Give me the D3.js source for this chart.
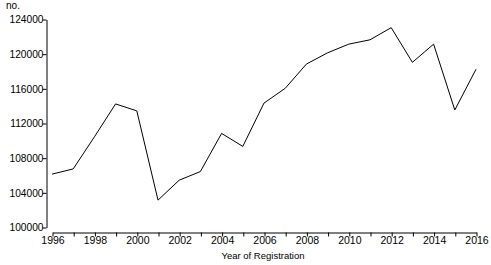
<!DOCTYPE html>
<html>
<head>
<meta charset="utf-8">
<script src="https://cdn.jsdelivr.net/npm/d3@7"></script>
<style>
html,body{margin:0;padding:0;background:#fff;}
svg{display:block;}
</style>
</head>
<body>
<svg id="chart" width="491" height="265"></svg>
<script>
const years = [1996,1997,1998,1999,2000,2001,2002,2003,2004,2005,2006,2007,2008,2009,2010,2011,2012,2013,2014,2015,2016];
const registrations = [106100,106700,110400,114200,113400,103100,105400,106400,110800,109300,114300,116000,118800,120100,121100,121600,123000,119000,121100,113500,118200];
const yTicks = [100000,104000,108000,112000,116000,120000,124000];
const xTicks = [1996,1998,2000,2002,2004,2006,2008,2010,2012,2014,2016];

const svg = d3.select("#chart");
const font = "'Liberation Sans', Arial, sans-serif";

const x = d3.scaleLinear().domain([1996, 2016]).range([52, 476]);
const y = d3.scaleLinear().domain([100000, 124000]).range([227, 19]);

// Y axis
const yAxis = svg.append("g")
  .attr("transform", "translate(46.5,0.5)")
  .call(d3.axisLeft(y).tickValues(yTicks).tickSize(4).tickSizeOuter(0).tickFormat(d3.format("d")));
yAxis.selectAll("text").attr("font-family", font).attr("font-size", "10.2px").attr("fill", "#000").attr("x", -3);
yAxis.selectAll("line,path").attr("stroke", "#000");

// X axis
const xAxis = svg.append("g")
  .attr("transform", "translate(0.5,232.5)")
  .call(d3.axisBottom(x).tickValues(years).tickSize(4).tickSizeOuter(0).tickFormat(d => xTicks.includes(d) ? String(d) : ""));
xAxis.selectAll("text").attr("font-family", font).attr("font-size", "10.5px").attr("fill", "#000").attr("y", 4);
xAxis.selectAll("line,path").attr("stroke", "#000");

// Line
const line = d3.line().x((d, i) => x(years[i])).y(d => y(d));
svg.append("path")
  .datum(registrations)
  .attr("fill", "none")
  .attr("stroke", "#000")
  .attr("stroke-width", 1)
  .attr("d", line);

// Labels
svg.append("text")
  .attr("x", 13).attr("y", 9)
  .attr("text-anchor", "middle")
  .attr("font-family", font).attr("font-size", "10px")
  .text("no.");

svg.append("text")
  .attr("x", 263).attr("y", 259)
  .attr("text-anchor", "middle")
  .attr("font-family", font).attr("font-size", "9.5px")
  .text("Year of Registration");
</script>
</body>
</html>
